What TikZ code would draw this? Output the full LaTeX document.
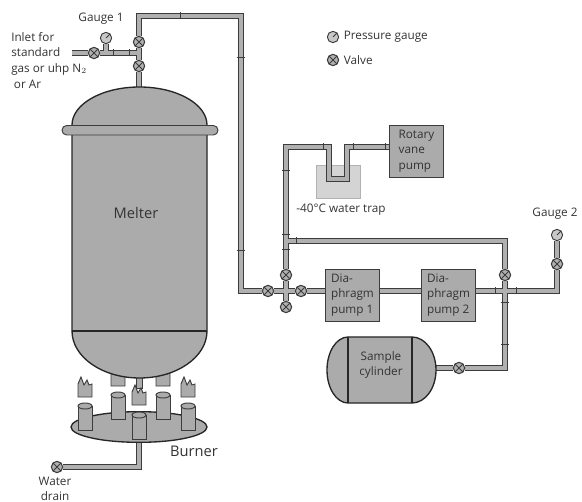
\documentclass[tikz,border=0pt]{standalone}
\usepackage{fontspec}
\setmainfont{Open Sans}
\usetikzlibrary{backgrounds, shapes.geometric}
\definecolor{edgegray}{HTML}{3C3C3C}
\definecolor{bodygray}{HTML}{ABABAB}
\definecolor{pipegray}{HTML}{B0B0B0}
\definecolor{textgray}{HTML}{333333}
\tikzset{
  font=\fontsize{8.8}{11.7}\selectfont,
  every node/.style={text=textgray},
  % Pipes
  pipe/.style={draw=edgegray, line width=0.7pt, double=pipegray, double distance=3.4pt},
  pipetick/.style={draw=edgegray, line width=0.6pt},
  % Valve
  valve/.style={draw=edgegray, fill=pipegray, shape=circle, line width=0.8pt, minimum size=8.5pt,
    inner sep=0pt, path picture={
      \draw[edgegray, line width=0.6pt] (path picture bounding box.north east) -- (path picture bounding box.south west)
      (path picture bounding box.north west) -- (path picture bounding box.south east);}},
  % Pressure gauge
  gauge/.style={draw=edgegray, fill=pipegray!70, shape=circle, line width=0.7pt, minimum size=8.5pt,
    inner sep=0pt, path picture={
      \draw[edgegray, line width=0.6pt] (path picture bounding box.center) -- (path picture bounding box.north east);}},
  % Pump
  pumpbox/.style={draw=edgegray, fill=bodygray, line width=0.7pt, minimum width=41pt, minimum height=39pt,
    inner sep=0pt, align=left},
  % Vessel outlines
  vessel/.style={draw=black!85, fill=bodygray, line width=1pt},
  thinpart/.style={draw=edgegray, fill=bodygray, line width=0.7pt},
  burnerplate/.style={vessel, shape=ellipse, minimum width=102pt, minimum height=23pt, inner sep=0pt},
}

\begin{document}
\begin{tikzpicture}[x=0.75pt, y=-0.75pt]
  \useasboundingbox (0,0) rectangle (582,502);

  % Valves and gauges
  \node[valve] (vinlet) at (94,53) {};
  \node[valve] (vtop) at (139,42) {};
  \node[valve] (vmelter) at (139,66) {};
  \node[gauge] (gaugea) at (106,38) {};
  \node[valve] (vfeed) at (268,291) {};
  \node[valve] (vupper) at (286,275) {};
  \node[valve] (vright) at (301,291) {};
  \node[valve] (vlower) at (286,307) {};
  \node[valve] (vcross) at (505,275) {};
  \node[valve] (vgauge) at (557,264) {};
  \node[gauge] (gaugeb) at (557,235) {};
  \node[valve] (vsample) at (459,368) {};
  \node[valve] (vdrain) at (57,467) {};

  % Pumps
  \node[pumpbox] (rotary) at (416.5,151) {Rotary\\vane\\pump};
  \node[pumpbox] (diaa) at (352.5,295) {Dia-\\phragm\\pump 1};
  \node[pumpbox] (diab) at (448.5,295) {Dia-\\phragm\\pump 2};

  % Pipe corners and junctions
  \coordinate (inletend) at (72,53);
  \coordinate (gaugejoin) at (106,53);
  \coordinate (inletjoin) at (139,53);
  \coordinate (melterin) at (139,88);
  \coordinate (topleft) at (139,16);
  \coordinate (topright) at (241,16);
  \coordinate (feedcorner) at (241,291);
  \coordinate (crossa) at (286,291);
  \coordinate (tee) at (286,241);
  \coordinate (trapcorner) at (286,147);
  \coordinate (trapin) at (329,147);
  \coordinate (trapa) at (329,179);
  \coordinate (trapb) at (347,179);
  \coordinate (trapout) at (347,147);
  \coordinate (teecorner) at (505,241);
  \coordinate (crossb) at (505,291);
  \coordinate (gaugecorner) at (557,291);
  \coordinate (samplecorner) at (505,368);
  \coordinate (samplein) at (436,368);
  \coordinate (drainup) at (139,442);
  \coordinate (draincorner) at (139,467);

  \begin{pgfonlayer}{background}
    % Water trap bath
    \fill[black!17, draw=black!30] (316,165) rectangle (360,198);
    \draw[pipe] (inletend) -- (vinlet) (vinlet) -- (inletjoin) (gaugea) -- (gaugejoin)
    (melterin) -- (vmelter) (vmelter) -- (vtop) (vtop) -- (topleft) -- (topright) -- (feedcorner) -- (vfeed)
    (vfeed) -- (vright) (vright) -- (diaa.west |- vright) (vlower) -- (vupper) (vupper) -- (trapcorner) -- (trapin)
    -- (trapa) -- (trapb) -- (trapout) -- (rotary.west |- trapout)
    (tee) -- (teecorner) -- (vcross) (vcross) -- (samplecorner) -- (vsample) (vsample) -- (samplein)
    (diaa.east |- vright) -- (diab.west |- vright) (diab.east |- vright) -- (gaugecorner) -- (vgauge) (vgauge) -- (gaugeb)
    (drainup) -- (draincorner) -- (vdrain);
  \end{pgfonlayer}

  % Section marks on the pipes
  \foreach \x/\y in {180/16, 113/53, 129/53, 296/241, 323/147, 353/147, 495/291, 516/291, 385/147}
    \draw[pipetick] (\x,\y-3.5) -- (\x,\y+3.5);
  \foreach \x/\y in {241/57, 241/250, 286/170, 286/234, 286/249, 505/302, 505/344}
    \draw[pipetick] (\x-4,\y) -- (\x+4,\y);

  % Flames
  \draw[thinpart] (136,375) rectangle (142,388);
  \foreach \x/\y in {85/397, 188/397, 118/386, 163/386, 139/405}
    \draw[thinpart, shift={(\x,\y)}] (-7,0) -- (-7,-13) -- (-4,-20) -- (-1,-12) -- (2,-17) -- (4,-12) -- (7,-13) -- (7,0) -- cycle;

  % Melter
  \draw[vessel] (72,125) arc [start angle=180, end angle=360, x radius=67.5, y radius=38]
  -- (207,331) arc [start angle=0, end angle=180, x radius=67.5, y radius=47] -- cycle;
  \draw[line width=1pt, black!85] (72,331) -- (207,331);
  \draw[thinpart, rounded corners=3.5pt] (62,125.5) rectangle (218,135);
  \node (melter) at (136,213) {\fontsize{11}{13}\selectfont Melter};

  % Burner
  \node[burnerplate] (burner) at (139,427) {};
  \foreach \x/\y in {85/403, 118/392, 163/392, 188/403, 139/412} {
    \draw[thinpart] (\x-7,\y+3) -- (\x-7,\y+27) -- (\x+7,\y+27) -- (\x+7,\y+3);
    \draw[thinpart] (\x,\y+3) ellipse [x radius=7, y radius=3];
  }
  \node (burnerlabel) at (194,451) {\fontsize{11}{13}\selectfont Burner};

  % Sample cylinder
  \draw[vessel] (348,403) arc [start angle=90, end angle=270, x radius=21, y radius=33]
  -- (412,337) arc [start angle=270, end angle=450, x radius=24, y radius=33] -- cycle;
  \draw[line width=1pt, black!85] (348,337) -- (348,403) (412,337) -- (412,403);
  \node[align=center] (samplelabel) at (381,365) {Sample\\cylinder};

  % Labels
  \node (gaugealabel) at (101,19) {Gauge 1};
  \node (gaugeblabel) at (555,214) {Gauge 2};
  \node[align=left, anchor=north west, inner sep=0pt] (inletlabel) at (11,32) {Inlet for\\standard\\gas or uhp N$_2$\\\hspace*{2pt}or Ar};
  \node (traplabel) at (341,210) {-40°C water trap};
  \node[align=center, inner sep=0pt] (drainlabel) at (55,489) {Water\\drain};

  % Key
  \node[gauge] (keygauge) at (333,37) {};
  \node[valve] (keyvalve) at (333,60) {};
  \node[right=0pt] (keygaugelabel) at (keygauge.east) {Pressure gauge};
  \node[right=0pt] (keyvalvelabel) at (keyvalve.east) {Valve};
\end{tikzpicture}
\end{document}
